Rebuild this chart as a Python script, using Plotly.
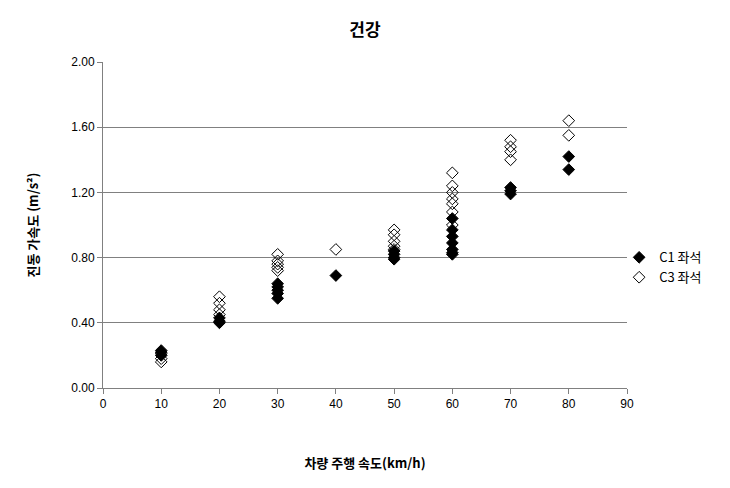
import plotly.graph_objects as go

c1_x = [10, 10, 10,
        20, 20, 20,
        30, 30, 30, 30, 30,
        40,
        50, 50, 50, 50,
        60, 60, 60, 60, 60, 60, 60,
        70, 70, 70,
        80, 80]
c1_y = [0.23, 0.22, 0.20,
        0.43, 0.41, 0.40,
        0.64, 0.62, 0.60, 0.58, 0.55,
        0.69,
        0.84, 0.82, 0.80, 0.79,
        1.04, 0.97, 0.93, 0.89, 0.85, 0.83, 0.82,
        1.23, 1.21, 1.19,
        1.42, 1.34]

c3_x = [10, 10, 10,
        20, 20, 20, 20,
        30, 30, 30, 30, 30,
        40,
        50, 50, 50, 50, 50,
        60, 60, 60, 60, 60, 60, 60,
        70, 70, 70, 70,
        80, 80]
c3_y = [0.21, 0.18, 0.16,
        0.56, 0.52, 0.48, 0.45,
        0.82, 0.78, 0.76, 0.74, 0.72,
        0.85,
        0.97, 0.94, 0.90, 0.87, 0.85,
        1.32, 1.24, 1.20, 1.16, 1.13, 1.08, 1.00,
        1.52, 1.48, 1.45, 1.40,
        1.64, 1.55]

x_ticks = [0, 10, 20, 30, 40, 50, 60, 70, 80, 90]
y_ticks = [0.0, 0.4, 0.8, 1.2, 1.6, 2.0]
y_labels = ["0.00", "0.40", "0.80", "1.20", "1.60", "2.00"]

kfont = "Noto Sans CJK KR"
tfont = "Liberation Sans"

fig = go.Figure()
fig.add_trace(go.Scatter(
    x=c1_x, y=c1_y, mode="markers", name="C1 좌석",
    marker=dict(symbol="diamond", size=9, color="black",
                line=dict(color="black", width=1))))
fig.add_trace(go.Scatter(
    x=c3_x, y=c3_y, mode="markers", name="C3 좌석",
    marker=dict(symbol="diamond-open", size=9, color="black",
                line=dict(width=1))))

fig.update_layout(
    width=730, height=488,
    margin=dict(l=95, r=111, t=54, b=108),
    paper_bgcolor="white", plot_bgcolor="white",
    title=dict(text="<b>건강</b>", x=0.5, xref="paper", xanchor="center",
               y=0.955, yanchor="middle",
               font=dict(family=kfont, size=17, color="black")),
    showlegend=True,
    legend=dict(x=0.985, y=0.37, xanchor="left", yanchor="middle",
                font=dict(family=kfont, size=13, color="black"),
                bgcolor="rgba(0,0,0,0)", tracegroupgap=0, itemwidth=30),
    xaxis=dict(range=[0, 90], tickvals=x_ticks, showgrid=False,
               showline=True, linecolor="#808080", linewidth=1,
               ticks="outside", ticklen=5, tickcolor="#808080",
               zeroline=False, mirror=False,
               tickfont=dict(family=tfont, size=12, color="black"),
               title=dict(text="<b>차량 주행 속도(km/h)</b>", standoff=48,
                          font=dict(family=kfont, size=13, color="black"))),
    yaxis=dict(range=[0, 2.0], tickvals=y_ticks, ticktext=y_labels,
               showgrid=True, gridcolor="#808080", gridwidth=1,
               showline=True, linecolor="#808080", linewidth=1,
               ticks="outside", ticklen=5, tickcolor="#808080",
               zeroline=False,
               tickfont=dict(family=tfont, size=12, color="black"),
               title=dict(text="<b>진동 가속도 (m/s²)</b>", standoff=29,
                          font=dict(family=kfont, size=13, color="black"))),
)

fig.write_html("out.html")
